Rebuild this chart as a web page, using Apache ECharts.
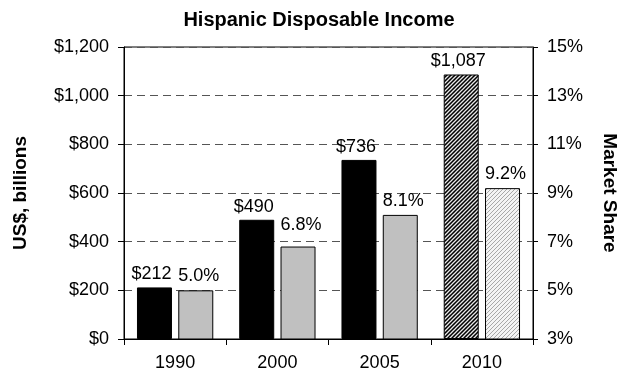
<!DOCTYPE html>
<html>
<head>
<meta charset="utf-8">
<script src="https://cdn.jsdelivr.net/npm/echarts@6/dist/echarts.min.js"></script>
<style>
  html, body { margin: 0; padding: 0; background: #fff; }
  #chart { width: 618px; height: 377px; }
</style>
</head>
<body>
<div id="chart"></div>
<script>
const titleText = 'Hispanic Disposable Income';
const years = ['1990', '2000', '2005', '2010'];
const incomeBillions = [212, 490, 736, 1087];
const marketSharePct = [5.0, 6.8, 8.1, 9.2];
const projected = [false, false, false, true];
const incomeTicks = [0, 200, 400, 600, 800, 1000, 1200];
const shareTicks = [3, 5, 7, 9, 11, 13, 15];
const leftAxisName = 'US$, billions';
const rightAxisName = 'Market Share';

const FONT = '"Liberation Sans", Arial, sans-serif';

function makePattern(bg, fg, lw) {
  const s = 4;
  const c = document.createElement('canvas');
  c.width = s; c.height = s;
  const ctx = c.getContext('2d');
  ctx.fillStyle = bg;
  ctx.fillRect(0, 0, s, s);
  ctx.strokeStyle = fg;
  ctx.lineWidth = lw;
  ctx.beginPath();
  ctx.moveTo(-1, s + 1); ctx.lineTo(s + 1, -1);
  ctx.moveTo(-1, 1); ctx.lineTo(1, -1);
  ctx.moveTo(s - 1, s + 1); ctx.lineTo(s + 1, s - 1);
  ctx.stroke();
  return c;
}
const darkHatch = { image: makePattern('#000', '#e8e8e8', 1.3), repeat: 'repeat' };
const lightHatch = { image: makePattern('#f4f4f4', '#a8a8a8', 1), repeat: 'repeat' };

function money(v) {
  return '$' + v.toLocaleString('en-US');
}

const incomeData = incomeBillions.map((v, i) => projected[i]
  ? { value: v, itemStyle: { color: darkHatch } }
  : v);
// the 2000 share label sits a little higher in the original
const shareData = marketSharePct.map((v, i) => {
  const item = { value: v };
  if (projected[i]) item.itemStyle = { color: lightHatch };
  if (i === 1) item.label = { distance: 13 };
  return item;
});

const chart = echarts.init(document.getElementById('chart'), null, { renderer: 'canvas' });

const labelStyle = { color: '#000', fontSize: 18, fontFamily: FONT };

chart.setOption({
  animation: false,
  backgroundColor: '#fff',
  textStyle: { fontFamily: FONT },
  grid: {
    left: 124, right: 85, top: 47, bottom: 38,
    containLabel: false,
    outerBoundsMode: 'none',
    show: true, borderColor: '#000', borderWidth: 1, backgroundColor: 'transparent'
  },
  graphic: [{
    type: 'text', x: 319, y: 20,
    style: {
      text: titleText, textAlign: 'center', textVerticalAlign: 'middle',
      font: 'bold 20px ' + FONT, fill: '#000'
    }
  }],
  xAxis: {
    type: 'category',
    data: years,
    axisLine: { lineStyle: { color: '#000', width: 1 } },
    axisTick: { show: true, length: 6, lineStyle: { color: '#000' } },
    axisLabel: { ...labelStyle, margin: 15 },
    splitLine: { show: false }
  },
  yAxis: [{
    type: 'value',
    min: incomeTicks[0],
    max: incomeTicks[incomeTicks.length - 1],
    interval: incomeTicks[1] - incomeTicks[0],
    name: leftAxisName,
    nameLocation: 'middle',
    nameRotate: 90,
    nameGap: 94,
    nameTextStyle: { color: '#000', fontSize: 19, fontWeight: 'bold', fontFamily: FONT },
    axisLine: { show: true, lineStyle: { color: '#000' } },
    axisTick: { show: true, length: 6, lineStyle: { color: '#000' } },
    axisLabel: { ...labelStyle, margin: 15, formatter: v => money(v) },
    splitLine: { show: true, lineStyle: { color: '#555', type: [8, 5], width: 1 } }
  }, {
    type: 'value',
    position: 'right',
    min: shareTicks[0],
    max: shareTicks[shareTicks.length - 1],
    interval: shareTicks[1] - shareTicks[0],
    name: rightAxisName,
    nameLocation: 'middle',
    nameRotate: -90,
    nameGap: 67,
    nameTextStyle: { color: '#000', fontSize: 19, fontWeight: 'bold', fontFamily: FONT },
    axisLine: { show: true, lineStyle: { color: '#000' } },
    axisTick: { show: true, length: 5, lineStyle: { color: '#000' } },
    axisLabel: { ...labelStyle, margin: 14, formatter: v => v + '%' },
    splitLine: { show: false }
  }],
  series: [{
    type: 'bar',
    name: 'Income',
    yAxisIndex: 0,
    data: incomeData,
    barWidth: 35,
    barGap: '18%',
    itemStyle: { color: '#000', borderColor: '#000', borderWidth: 1 },
    label: {
      show: true, position: 'top', distance: 4, offset: [-3, 0], ...labelStyle,
      formatter: p => money(p.value)
    }
  }, {
    type: 'bar',
    name: 'Share',
    yAxisIndex: 1,
    data: shareData,
    barWidth: 35,
    barGap: '18%',
    itemStyle: { color: '#c0c0c0', borderColor: '#000', borderWidth: 1 },
    label: {
      show: true, position: 'top', distance: 5, offset: [3, 0], ...labelStyle,
      formatter: p => p.value.toFixed(1) + '%'
    }
  }]
});
</script>
</body>
</html>
